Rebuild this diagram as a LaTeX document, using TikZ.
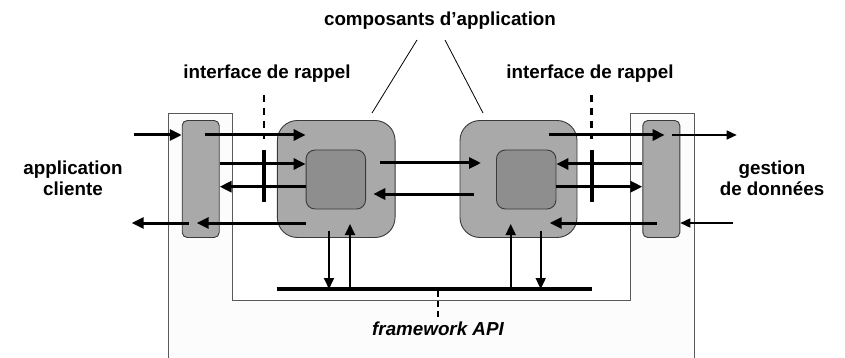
\documentclass[tikz,border=0pt]{standalone}
\usepackage{fontspec}
\setmainfont{Liberation Sans}
\usetikzlibrary{arrows.meta,calc}

\definecolor{boxgray}{HTML}{A9A9A9}
\definecolor{coregray}{HTML}{8E8E8E}
\definecolor{edgegray}{HTML}{3A3A3A}
\definecolor{framegray}{HTML}{5A5A5A}
\definecolor{framefill}{HTML}{FCFCFC}

\begin{document}
\begin{tikzpicture}[x=1pt,y=-1pt,
  lbl/.style={font=\bfseries\fontsize{18.8}{21}\selectfont, inner sep=0pt},
  lblit/.style={font=\bfseries\itshape\fontsize{18.8}{21}\selectfont, inner sep=0pt},
  sidebox/.style={draw=edgegray, line width=0.9pt, fill=boxgray, rounded corners=5pt,
    minimum width=37pt, minimum height=117pt, inner sep=0pt},
  compbox/.style={draw=edgegray, line width=0.9pt, fill=boxgray, rounded corners=20pt,
    minimum height=117pt, inner sep=0pt},
  corebox/.style={draw=edgegray, line width=0.9pt, fill=coregray, rounded corners=9pt,
    minimum width=59.5pt, minimum height=59pt, inner sep=0pt},
  flow/.style={line width=3pt, -{Triangle[length=12pt,width=11pt]}},
  thinflow/.style={line width=1.4pt, -{Triangle[length=10pt,width=9pt]}},
  apiflow/.style={line width=1.8pt, -{Triangle[length=11pt,width=10pt]}},
  callbar/.style={line width=4pt},
  calldash/.style={line width=2.5pt, dash pattern=on 7pt off 6pt},
  pointer/.style={line width=0.8pt},
  ]
\useasboundingbox (0,0) rectangle (845,358);

% framework area (U-shaped outline around the application)
\fill[framefill] (168,358) -- (168,113) -- (232,113) -- (232,300) -- (630,300)
  -- (630,113) -- (694,113) -- (694,358) -- cycle;
\draw[framegray, line width=0.9pt] (168,358) -- (168,113) -- (232,113) -- (232,300)
  -- (630,300) -- (630,113) -- (694,113) -- (694,358);

% boxes
\node[sidebox] (cli) at (200.7,179) {};
\node[compbox, minimum width=117.7pt] (ca) at (336.2,179) {};
\node[corebox] (ka) at (335.8,179.5) {};
\node[compbox, minimum width=117pt] (cb) at (518.5,179) {};
\node[corebox] (kb) at (526.2,179.5) {};
\node[sidebox] (dat) at (661.3,179) {};

% labels
\node[lbl, anchor=base] (titre) at (440,25.5) {composants d’application};
\node[lbl, anchor=base] (rapA) at (267,79) {interface de rappel};
\node[lbl, anchor=base] (rapB) at (590,79) {interface de rappel};
\node[lbl, align=center] (client) at (73,178) {application\\cliente};
\node[lbl, align=center] (gest) at (772,178) {gestion\\de données};
\node[lblit, anchor=base] (fw) at (438,335) {framework API};

% pointers from the title to the two components
\coordinate (pA1) at (417,40);  \coordinate (pA2) at (372,113);
\coordinate (pB1) at (445,40);  \coordinate (pB2) at (483,113);
\draw[pointer] (pA1) -- (pA2);
\draw[pointer] (pB1) -- (pB2);

% flow rows
\coordinate (r1) at (0,135);
\coordinate (r2) at (0,164);
\coordinate (r3) at (0,186.7);
\coordinate (r4) at (0,223);
\coordinate (m1) at (0,163);
\coordinate (m2) at (0,194);

% client side
\coordinate (inC) at (134,135);
\coordinate (outC) at (131.7,223);
\draw[flow] (inC) -- (cli.west |- r1);
\draw[flow] ($(cli.east |- r1)+(-15,0)$) -- (ka.west |- r1);
\draw[flow] (cli.east |- r2) -- (ka.west |- r2);
\draw[flow] (ka.west |- r3) -- (cli.east |- r3);
\draw[flow] (ka.west |- r4) -- ($(cli.center |- r4)+(-4,0)$);
\draw[flow] ($(cli.center |- r4)+(-12,0)$) -- (outC);

% between the components
\draw[flow] ($(ka.east |- m1)+(14.3,0)$) -- ($(kb.west |- m1)+(-15,0)$);
\draw[flow] ($(kb.west |- m2)+(-21.7,0)$) -- ($(ka.east |- m2)+(7.3,0)$);

% data side
\coordinate (outD) at (736.7,135);
\coordinate (inD) at (733,223);
\draw[flow] ($(kb.east |- r1)+(-7.7,0)$) -- ($(dat.west |- r1)+(22.3,0)$);
\draw[thinflow] ($(dat.east |- r1)+(-8,0)$) -- (outD);
\draw[flow] (dat.west |- r2) -- (kb.east |- r2);
\draw[flow] (kb.east |- r3) -- (dat.west |- r3);
\draw[flow] ($(dat.west |- r4)+(14.3,0)$) -- ($(kb.east |- r4)+(-6.7,0)$);
\draw[thinflow] (inD) -- (dat.east |- r4);

% framework API bus
\coordinate (apiW) at (276.7,289);
\coordinate (apiE) at (591.7,289);
\draw[line width=4.5pt] (apiW) -- (apiE);
\coordinate (apiM) at (438,291);
\coordinate (apiT) at (438,318);
\draw[line width=1.5pt, dash pattern=on 6pt off 4pt] (apiM) -- (apiT);

\coordinate (dA) at (329,231);
\coordinate (uA) at (350,224);
\coordinate (uB) at (510.7,224);
\coordinate (dB) at (540.7,231);
\draw[apiflow] (dA) -- (dA |- apiW);
\draw[apiflow] (uA |- apiW) -- (uA);
\draw[apiflow] (uB |- apiW) -- (uB);
\draw[apiflow] (dB) -- (dB |- apiW);

% callback interfaces
\coordinate (cbA1) at (264,150);  \coordinate (cbA2) at (264,201.7);
\coordinate (cbA0) at (264,95);   \coordinate (cbAd) at (264,139);
\coordinate (cbB1) at (591.7,150); \coordinate (cbB2) at (591.7,201.7);
\coordinate (cbB0) at (591.7,95);  \coordinate (cbBd) at (591.7,139);
\draw[callbar] (cbA1) -- (cbA2);
\draw[callbar] (cbB1) -- (cbB2);
\draw[calldash] (cbA0) -- (cbAd);
\draw[calldash] (cbB0) -- (cbBd);
\end{tikzpicture}
\end{document}
